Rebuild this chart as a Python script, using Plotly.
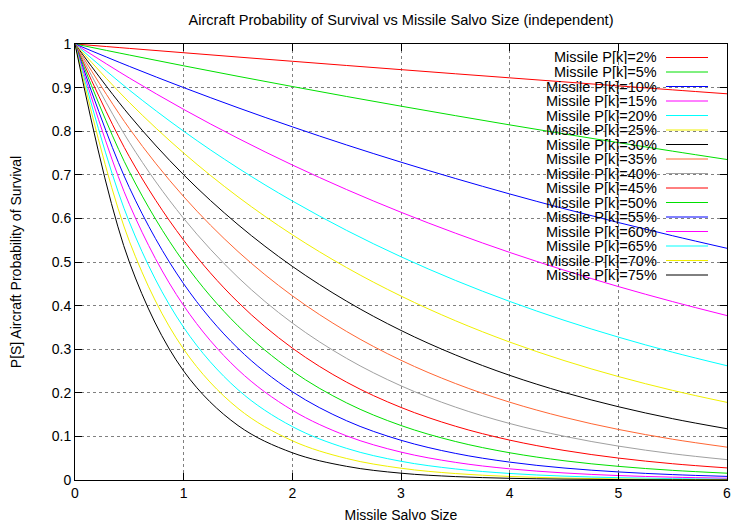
import plotly.graph_objects as go

# Missile salvo size (x) samples
salvo_size = [0, 0.5, 1, 1.5, 2, 2.5, 3, 3.5, 4, 4.5, 5, 5.5, 6]

# Probability of survival for each missile P[k]
ps_02 = [1, .9899, .98, .9701, .9604, .9507, .9412, .9317, .9224, .9131, .9039, .8948, .8858]
ps_05 = [1, .9747, .95, .9259, .9025, .8796, .8574, .8357, .8145, .7939, .7738, .7542, .7351]
ps_10 = [1, .9487, .9, .8538, .81, .7684, .729, .6916, .6561, .6224, .5905, .5602, .5314]
ps_15 = [1, .922, .85, .7837, .7225, .6661, .6141, .5662, .522, .4813, .4437, .4091, .3771]
ps_20 = [1, .8944, .8, .7155, .64, .5724, .512, .4579, .4096, .3664, .3277, .2931, .2621]
ps_25 = [1, .866, .75, .6495, .5625, .4871, .4219, .3654, .3164, .274, .2373, .2055, .178]
ps_30 = [1, .8367, .7, .5857, .49, .41, .343, .287, .2401, .2009, .1681, .1406, .1176]
ps_35 = [1, .8062, .65, .524, .4225, .3406, .2746, .2214, .1785, .1439, .116, .0935, .0754]
ps_40 = [1, .7746, .6, .4648, .36, .2789, .216, .1673, .1296, .1004, .0778, .0602, .0467]
ps_45 = [1, .7416, .55, .4079, .3025, .2243, .1664, .1234, .0915, .0679, .0503, .0373, .0277]
ps_50 = [1, .7071, .5, .3536, .25, .1768, .125, .0884, .0625, .0442, .0313, .0221, .0156]
ps_55 = [1, .6708, .45, .3019, .2025, .1358, .0911, .0611, .041, .0275, .0185, .0124, .0083]
ps_60 = [1, .6325, .4, .253, .16, .1012, .064, .0405, .0256, .0162, .0102, .0065, .0041]
ps_65 = [1, .5916, .35, .2071, .1225, .0725, .0429, .0254, .015, .0089, .0053, .0031, .0018]
ps_70 = [1, .5477, .3, .1643, .09, .0493, .027, .0148, .0081, .0044, .0024, .0013, .0007]
ps_75 = [1, .5, .25, .125, .0625, .0313, .0156, .0078, .0039, .002, .001, .0005, .0002]

series_names = ["Missile P[k]=2%", "Missile P[k]=5%", "Missile P[k]=10%", "Missile P[k]=15%",
                "Missile P[k]=20%", "Missile P[k]=25%", "Missile P[k]=30%", "Missile P[k]=35%",
                "Missile P[k]=40%", "Missile P[k]=45%", "Missile P[k]=50%", "Missile P[k]=55%",
                "Missile P[k]=60%", "Missile P[k]=65%", "Missile P[k]=70%", "Missile P[k]=75%"]
series_values = [ps_02, ps_05, ps_10, ps_15, ps_20, ps_25, ps_30, ps_35,
                 ps_40, ps_45, ps_50, ps_55, ps_60, ps_65, ps_70, ps_75]

x_ticks = [0, 1, 2, 3, 4, 5, 6]
y_ticks = [0, 0.1, 0.2, 0.3, 0.4, 0.5, 0.6, 0.7, 0.8, 0.9, 1]
y_tick_labels = ["0", "0.1", "0.2", "0.3", "0.4", "0.5", "0.6", "0.7", "0.8", "0.9", "1"]

palette = ["#ff0000", "#00e000", "#0000ff", "#ff00ff", "#00ffff", "#f0f000",
           "#000000", "#ff6633", "#a0a0a0"]

FONT = "Liberation Sans, Arial, Helvetica, sans-serif"

fig = go.Figure()
for i, (name, vals) in enumerate(zip(series_names, series_values)):
    fig.add_trace(go.Scatter(
        x=salvo_size, y=vals, mode="lines", name=name,
        line=dict(color=palette[i % len(palette)], width=1, shape="spline"),
        showlegend=False, hoverinfo="x+y+name"))

# gnuplot-style key: right-aligned text followed by a line sample
PL, PR, PT, PB = 75, 727, 44, 480
W = PR - PL
H = PB - PT
annotations = []
shapes = []
for i, name in enumerate(series_names):
    ypix = 57.5 + 14.5 * i
    yp = (PB - ypix) / H
    annotations.append(dict(
        x=(658 - PL) / W, y=yp, xref="paper", yref="paper",
        xanchor="right", yanchor="middle", showarrow=False,
        height=14, borderpad=0, valign="middle",
        text=name, font=dict(family=FONT, size=14.5, color="#000000")))
    shapes.append(dict(
        type="line", xref="paper", yref="paper",
        x0=(666 - PL) / W, x1=(708 - PL) / W, y0=yp, y1=yp,
        line=dict(color=palette[i % len(palette)], width=1)))

axis_common = dict(
    showline=True, linecolor="#000000", linewidth=1, mirror="ticks",
    ticks="inside", ticklen=7, tickcolor="#000000", tickwidth=1,
    showgrid=True, gridcolor="#808080", griddash="dot", gridwidth=1,
    zeroline=False, automargin=False,
    tickfont=dict(family=FONT, size=14, color="#000000"),
)

fig.update_layout(
    width=750, height=525, autosize=False,
    margin=dict(l=PL, r=750 - PR, t=PT, b=525 - PB, autoexpand=False),
    paper_bgcolor="#ffffff", plot_bgcolor="#ffffff",
    font=dict(family=FONT, size=14, color="#000000"),
    title=dict(text="Aircraft Probability of Survival vs Missile Salvo Size (independent)",
               x=0.5, xref="paper", y=1 - 20 / 525, yref="container",
               xanchor="center", yanchor="middle",
               font=dict(family=FONT, size=14.6, color="#000000")),
    xaxis=dict(range=[0, 6], tickvals=x_ticks, ticktext=[str(v) for v in x_ticks],
               title=dict(text="Missile Salvo Size", standoff=10,
                          font=dict(family=FONT, size=14)),
               **axis_common),
    yaxis=dict(range=[0, 1], tickvals=y_ticks, ticktext=y_tick_labels,
               title=dict(text="P[S] Aircraft Probability of Survival", standoff=26,
                          font=dict(family=FONT, size=14)),
               **axis_common),
    annotations=annotations, shapes=shapes,
)

fig.write_html("out.html", config={"displayModeBar": False},
               post_script="document.body.style.margin='0px';document.body.style.overflow='hidden';")
